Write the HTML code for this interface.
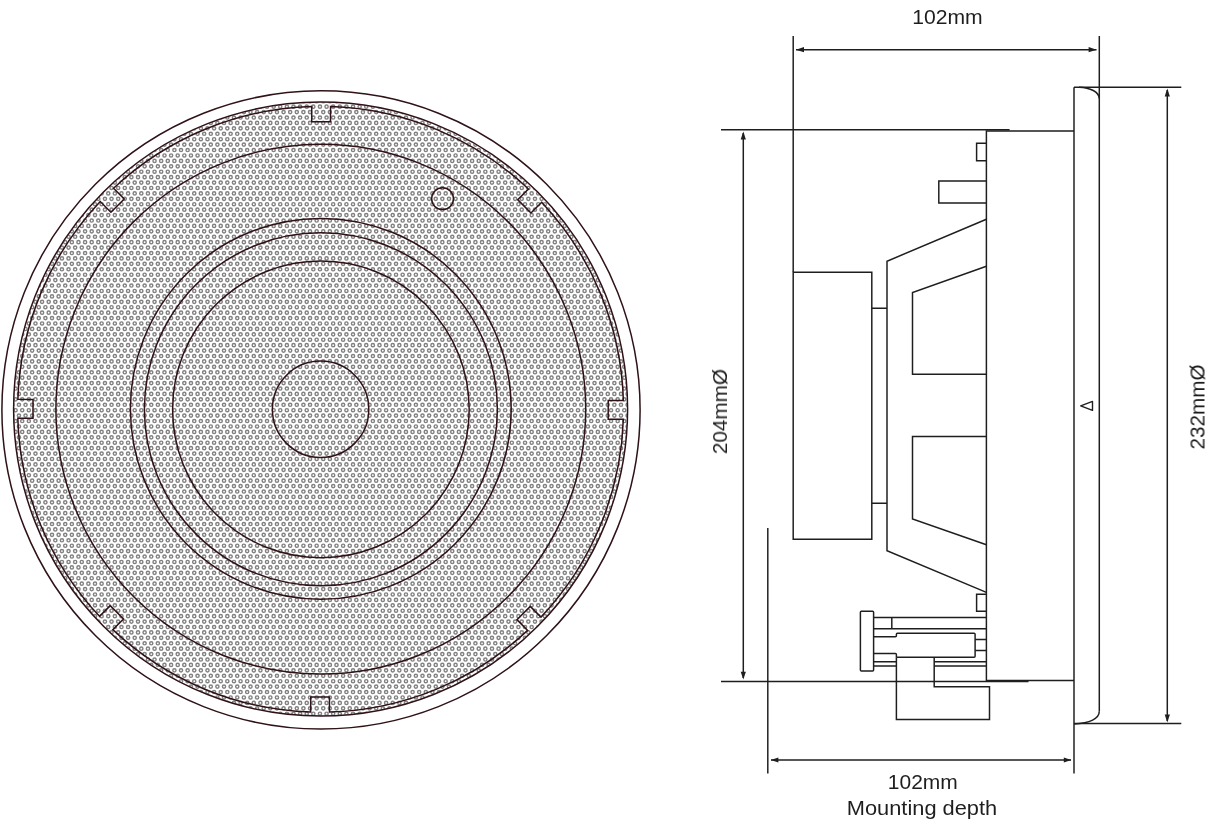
<!DOCTYPE html>
<html><head><meta charset="utf-8"><title>Speaker dimensions</title>
<style>
html,body{margin:0;padding:0;background:#fff;}
body{width:1214px;height:825px;overflow:hidden;font-family:"Liberation Sans",sans-serif;}
svg{display:block;}
</style></head><body>
<svg width="1214" height="825" viewBox="0 0 1214 825">
<rect width="1214" height="825" fill="#fff"/>

<defs>
<clipPath id="gc"><circle cx="320.6" cy="409.1" r="306.6"/></clipPath>
</defs>
<g clip-path="url(#gc)" fill="none" stroke-linecap="round" stroke-dasharray="0 6.616">
<path id="rows" d="M290.18 101.26H349.73M260.41 106.68H386.12M237.25 112.10H402.66M220.71 117.52H419.20M204.17 122.94H435.74M194.25 128.36H445.66M184.32 133.78H462.20M174.40 139.20H472.13M164.47 144.62H475.44M154.55 150.04H485.36M144.63 155.46H495.28M141.32 160.88H505.21M131.39 166.30H508.52M128.09 171.72H518.44M118.16 177.14H521.75M114.85 182.56H525.06M104.93 187.98H534.98M101.62 193.40H538.29M98.31 198.82H541.60M95.01 204.24H551.52M85.08 209.66H554.83M81.77 215.08H558.14M78.47 220.50H561.44M75.16 225.92H564.75M71.85 231.34H568.06M68.54 236.76H571.37M65.23 242.18H581.29M61.93 247.60H584.60M58.62 253.02H587.91M55.31 258.44H584.60M52.00 263.86H587.91M48.69 269.28H591.22M45.39 274.70H594.52M42.08 280.12H597.83M38.77 285.54H601.14M35.46 290.96H604.45M38.77 296.38H607.76M35.46 301.80H604.45M32.15 307.22H607.76M28.85 312.64H611.06M25.54 318.06H614.37M28.85 323.48H617.68M25.54 328.90H614.37M22.23 334.32H617.68M18.92 339.74H620.99M22.23 345.16H617.68M18.92 350.58H620.99M15.61 356.00H624.30M18.92 361.42H620.99M15.61 366.84H624.30M18.92 372.26H627.60M15.61 377.68H624.30M12.31 383.10H627.60M15.61 388.52H624.30M12.31 393.94H627.60M15.61 399.36H624.30M12.31 404.78H627.60M15.61 410.20H624.30M12.31 415.62H627.60M15.61 421.04H624.30M12.31 426.46H627.60M15.61 431.88H624.30M12.31 437.30H627.60M15.61 442.72H624.30M18.92 448.14H627.60M15.61 453.56H624.30M18.92 458.98H620.99M22.23 464.40H624.30M18.92 469.82H620.99M22.23 475.24H617.68M25.54 480.66H620.99M22.23 486.08H617.68M25.54 491.50H614.37M28.85 496.92H611.06M25.54 502.34H614.37M28.85 507.76H611.06M32.15 513.18H607.76M35.46 518.60H604.45M38.77 524.02H607.76M35.46 529.44H604.45M38.77 534.86H601.14M42.08 540.28H597.83M45.39 545.70H594.52M48.69 551.12H591.22M52.00 556.54H587.91M55.31 561.96H584.60M58.62 567.38H581.29M61.93 572.80H577.98M65.23 578.22H574.68M68.54 583.64H571.37M71.85 589.06H568.06M75.16 594.48H564.75M78.47 599.90H561.44M81.77 605.32H558.14M91.70 610.74H554.83M95.01 616.16H544.90M98.31 621.58H541.60M101.62 627.00H538.29M111.55 632.42H534.98M114.85 637.84H525.06M118.16 643.26H521.75M128.09 648.68H511.82M131.39 654.10H508.52M141.32 659.52H498.59M151.24 664.94H488.67M154.55 670.36H485.36M164.47 675.78H475.44M174.40 681.20H465.51M184.32 686.62H455.59M200.86 692.04H445.66M210.79 697.46H429.12M227.33 702.88H412.58M243.87 708.30H396.04M267.02 713.72H372.89" stroke="#828282" stroke-width="4.65"/>
<path d="M290.18 101.26H349.73M260.41 106.68H386.12M237.25 112.10H402.66M220.71 117.52H419.20M204.17 122.94H435.74M194.25 128.36H445.66M184.32 133.78H462.20M174.40 139.20H472.13M164.47 144.62H475.44M154.55 150.04H485.36M144.63 155.46H495.28M141.32 160.88H505.21M131.39 166.30H508.52M128.09 171.72H518.44M118.16 177.14H521.75M114.85 182.56H525.06M104.93 187.98H534.98M101.62 193.40H538.29M98.31 198.82H541.60M95.01 204.24H551.52M85.08 209.66H554.83M81.77 215.08H558.14M78.47 220.50H561.44M75.16 225.92H564.75M71.85 231.34H568.06M68.54 236.76H571.37M65.23 242.18H581.29M61.93 247.60H584.60M58.62 253.02H587.91M55.31 258.44H584.60M52.00 263.86H587.91M48.69 269.28H591.22M45.39 274.70H594.52M42.08 280.12H597.83M38.77 285.54H601.14M35.46 290.96H604.45M38.77 296.38H607.76M35.46 301.80H604.45M32.15 307.22H607.76M28.85 312.64H611.06M25.54 318.06H614.37M28.85 323.48H617.68M25.54 328.90H614.37M22.23 334.32H617.68M18.92 339.74H620.99M22.23 345.16H617.68M18.92 350.58H620.99M15.61 356.00H624.30M18.92 361.42H620.99M15.61 366.84H624.30M18.92 372.26H627.60M15.61 377.68H624.30M12.31 383.10H627.60M15.61 388.52H624.30M12.31 393.94H627.60M15.61 399.36H624.30M12.31 404.78H627.60M15.61 410.20H624.30M12.31 415.62H627.60M15.61 421.04H624.30M12.31 426.46H627.60M15.61 431.88H624.30M12.31 437.30H627.60M15.61 442.72H624.30M18.92 448.14H627.60M15.61 453.56H624.30M18.92 458.98H620.99M22.23 464.40H624.30M18.92 469.82H620.99M22.23 475.24H617.68M25.54 480.66H620.99M22.23 486.08H617.68M25.54 491.50H614.37M28.85 496.92H611.06M25.54 502.34H614.37M28.85 507.76H611.06M32.15 513.18H607.76M35.46 518.60H604.45M38.77 524.02H607.76M35.46 529.44H604.45M38.77 534.86H601.14M42.08 540.28H597.83M45.39 545.70H594.52M48.69 551.12H591.22M52.00 556.54H587.91M55.31 561.96H584.60M58.62 567.38H581.29M61.93 572.80H577.98M65.23 578.22H574.68M68.54 583.64H571.37M71.85 589.06H568.06M75.16 594.48H564.75M78.47 599.90H561.44M81.77 605.32H558.14M91.70 610.74H554.83M95.01 616.16H544.90M98.31 621.58H541.60M101.62 627.00H538.29M111.55 632.42H534.98M114.85 637.84H525.06M118.16 643.26H521.75M128.09 648.68H511.82M131.39 654.10H508.52M141.32 659.52H498.59M151.24 664.94H488.67M154.55 670.36H485.36M164.47 675.78H475.44M174.40 681.20H465.51M184.32 686.62H455.59M200.86 692.04H445.66M210.79 697.46H429.12M227.33 702.88H412.58M243.87 708.30H396.04M267.02 713.72H372.89" stroke="#fff" stroke-width="1.75"/>
</g>
<g fill="none" stroke="#2e1217" stroke-width="1.5">
<circle cx="321" cy="409.9" r="319.1"/>
<circle cx="320.6" cy="409.1" r="307"/>
<path d="M623.37 400.43 L608.22 400.40 L608.18 419.20 L623.34 419.23 A302.9 302.9 0 0 1 540.96 617.12 L530.27 606.38 L516.95 619.65 L527.65 630.39 A302.9 302.9 0 0 1 329.47 712.07 L329.50 696.92 L310.70 696.88 L310.67 712.04 A302.9 302.9 0 0 1 112.78 629.66 L123.52 618.97 L110.25 605.65 L99.51 616.35 A302.9 302.9 0 0 1 17.83 418.17 L32.98 418.20 L33.02 399.40 L17.86 399.37 A302.9 302.9 0 0 1 100.24 201.48 L110.93 212.22 L124.25 198.95 L113.55 188.21 A302.9 302.9 0 0 1 311.73 106.53 L311.70 121.68 L330.50 121.72 L330.53 106.56 A302.9 302.9 0 0 1 528.42 188.94 L517.68 199.63 L530.95 212.95 L541.69 202.25 A302.9 302.9 0 0 1 623.37 400.43 Z" stroke-linejoin="miter"/>
<circle cx="320.8" cy="409.2" r="264.9"/>
<circle cx="320.8" cy="408.8" r="190.4"/>
<circle cx="320.9" cy="409.3" r="176.5"/>
<circle cx="320.9" cy="409.4" r="148.3"/>
<circle cx="320.6" cy="409.3" r="48.2"/>
<circle cx="442.55" cy="198.7" r="10.9"/>
</g>


<g fill="none" stroke="#1e1e1e" stroke-width="1.48" stroke-linejoin="miter">
<!-- extension / dimension lines -->
<path d="M793.2 36V272"/>
<path d="M1099.3 36V711.3"/>
<path d="M796 49.7H1096.5"/>
<path d="M721 129.8H1009.6"/>
<path d="M721 681.4H1028.5"/>
<path d="M743.3 133V678"/>
<path d="M1167.3 90V721"/>
<path d="M1074 87.2H1181.3"/>
<path d="M1074 723.6H1181.3"/>
<path d="M767.8 528V773.6"/>
<path d="M1074 87.2V773.6"/>
<path d="M771 760H1071"/>
<!-- flange -->
<path d="M1079 87.2C1090 87.5 1099.2 91.8 1099.3 98.8"/>
<path d="M1099.3 711.3C1099.2 718.6 1090 723.3 1074 724"/>
<!-- body -->
<path d="M1074 131H986.4V680.4H1074"/>
<!-- small rects -->
<path d="M986.4 143.3H976.6V160.7H986.4"/>
<path d="M986.4 181H938.8V203.1H986.4"/>
<path d="M986.4 594.2H976.6V611.3H986.4"/>
<!-- basket -->
<path d="M986.4 219.3L887 261.2V550.7L986.4 592.4"/>
<path d="M986.4 266.2L912.5 292.5V374.3H986.4"/>
<path d="M986.4 436.6H912.5V518.9L986.4 544.7"/>
<!-- magnet -->
<path d="M793.2 272.3H871.8V539.3H793.2Z"/>
<path d="M871.8 308.2H887M871.8 503.2H887"/>
<!-- terminal -->
<rect x="860.4" y="611.3" width="13.2" height="59.6" rx="1" ry="1"/>
<path d="M873.6 617.6H986.4M873.6 628.7H986.4M891.8 617.6V628.7"/>
<path d="M873.6 636.7H895.4Q896.4 636.7 896.4 635.7V634.3Q896.4 633.3 897.4 633.3H974.1Q975.1 633.3 975.1 634.3V656.3Q975.1 657.3 974.1 657.3H896.4"/>
<path d="M873.6 653.6H895.4Q896.4 653.6 896.4 654.6V657.3"/>
<path d="M975.1 639.5H986.4M975.1 650.5H986.4"/>
<path d="M873.6 661.8H896.4M873.6 666H896.4M934.2 661.8H986.4M934.2 666H986.4"/>
<path d="M896.4 657.3V719.6H989.5V686.7H934.2V657.3"/>
<!-- triangle mark -->
<path d="M1080.7 405.9L1092.5 401.4V410.4Z" stroke-width="1.4" stroke-linejoin="round"/>
</g>
<g fill="#1e1e1e" stroke="none">
<path d="M796 49.7l8 -2.6v5.2z"/>
<path d="M1096.6 49.7l-8 -2.6v5.2z"/>
<path d="M770.8 760l7.6 -2.6v5.2z"/>
<path d="M1071.4 760l-7.6 -2.6v5.2z"/>
<path d="M743.3 131.5l-2.6 8h5.2z"/>
<path d="M743.3 679.4l-2.6 -7.6h5.2z"/>
<path d="M1167.3 88.5l-2.6 8h5.2z"/>
<path d="M1167.3 722.5l-2.6 -8h5.2z"/>
</g>
<g opacity="0.99" fill="#1c1c1c" font-family="'Liberation Sans', sans-serif" font-size="19.6px" text-anchor="middle">
<text x="947.4" y="24.4" textLength="70.5" lengthAdjust="spacingAndGlyphs">102mm</text>
<text x="922.8" y="789.2" textLength="70" lengthAdjust="spacingAndGlyphs">102mm</text>
<text x="922" y="815.1" textLength="150.4" lengthAdjust="spacingAndGlyphs">Mounting depth</text>
<text transform="translate(727 411.6) rotate(-90)" textLength="85.2" lengthAdjust="spacingAndGlyphs">204mmØ</text>
<text transform="translate(1204.5 407) rotate(-90)" textLength="85" lengthAdjust="spacingAndGlyphs">232mmØ</text>
</g>

</svg>
</body></html>
